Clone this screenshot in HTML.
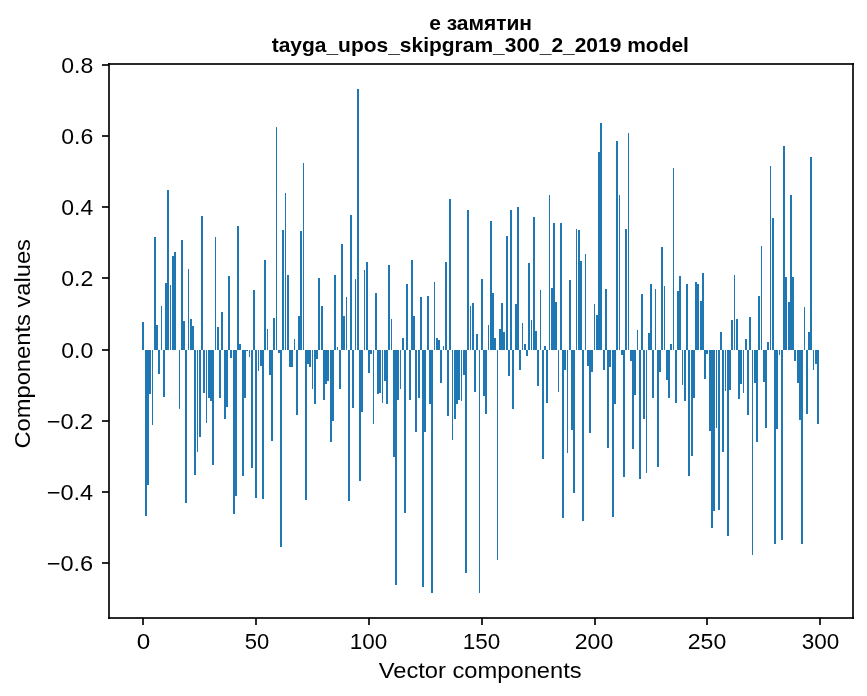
<!DOCTYPE html>
<html><head><meta charset="utf-8"><style>
html,body{margin:0;padding:0;background:#fff;width:867px;height:696px;overflow:hidden}
svg{display:block;will-change:transform}
text{font-family:"Liberation Sans",sans-serif;fill:#000}
</style></head><body>
<svg width="867" height="696" viewBox="0 0 867 696">
<rect x="0" y="0" width="867" height="696" fill="#fff"/>
<g fill="#1f77b4" shape-rendering="crispEdges">
<rect x="142" y="322" width="2" height="28"/>
<rect x="145" y="350" width="2" height="166"/>
<rect x="147" y="350" width="2" height="135"/>
<rect x="149" y="350" width="2" height="44"/>
<rect x="152" y="350" width="1" height="75"/>
<rect x="154" y="237" width="2" height="113"/>
<rect x="156" y="325" width="2" height="25"/>
<rect x="158" y="350" width="2" height="24"/>
<rect x="161" y="306" width="1" height="44"/>
<rect x="163" y="350" width="2" height="47"/>
<rect x="165" y="283" width="2" height="67"/>
<rect x="167" y="190" width="2" height="160"/>
<rect x="170" y="285" width="1" height="65"/>
<rect x="172" y="256" width="2" height="94"/>
<rect x="174" y="252" width="2" height="98"/>
<rect x="179" y="350" width="1" height="59"/>
<rect x="181" y="240" width="2" height="110"/>
<rect x="183" y="321" width="2" height="29"/>
<rect x="185" y="350" width="2" height="153"/>
<rect x="188" y="269" width="1" height="81"/>
<rect x="190" y="319" width="2" height="31"/>
<rect x="192" y="326" width="2" height="24"/>
<rect x="194" y="350" width="2" height="125"/>
<rect x="197" y="350" width="1" height="102"/>
<rect x="199" y="350" width="2" height="87"/>
<rect x="201" y="216" width="2" height="134"/>
<rect x="203" y="350" width="2" height="43"/>
<rect x="206" y="350" width="1" height="73"/>
<rect x="208" y="350" width="2" height="48"/>
<rect x="210" y="350" width="2" height="51"/>
<rect x="212" y="350" width="2" height="115"/>
<rect x="215" y="237" width="1" height="113"/>
<rect x="217" y="327" width="2" height="23"/>
<rect x="219" y="350" width="2" height="48"/>
<rect x="221" y="312" width="2" height="38"/>
<rect x="224" y="350" width="2" height="69"/>
<rect x="226" y="350" width="2" height="57"/>
<rect x="228" y="276" width="2" height="74"/>
<rect x="230" y="350" width="2" height="8"/>
<rect x="233" y="350" width="2" height="164"/>
<rect x="235" y="350" width="2" height="146"/>
<rect x="237" y="226" width="2" height="124"/>
<rect x="239" y="344" width="2" height="6"/>
<rect x="242" y="350" width="2" height="126"/>
<rect x="244" y="350" width="2" height="48"/>
<rect x="246" y="350" width="2" height="1"/>
<rect x="249" y="350" width="1" height="7"/>
<rect x="251" y="350" width="2" height="118"/>
<rect x="253" y="290" width="2" height="60"/>
<rect x="255" y="350" width="2" height="148"/>
<rect x="258" y="350" width="1" height="21"/>
<rect x="260" y="350" width="2" height="16"/>
<rect x="262" y="350" width="2" height="149"/>
<rect x="264" y="260" width="2" height="90"/>
<rect x="267" y="329" width="1" height="21"/>
<rect x="269" y="350" width="2" height="25"/>
<rect x="271" y="350" width="2" height="91"/>
<rect x="273" y="318" width="2" height="32"/>
<rect x="276" y="127" width="1" height="223"/>
<rect x="278" y="350" width="2" height="3"/>
<rect x="280" y="350" width="2" height="197"/>
<rect x="282" y="230" width="2" height="120"/>
<rect x="285" y="193" width="1" height="157"/>
<rect x="287" y="275" width="2" height="75"/>
<rect x="289" y="350" width="2" height="17"/>
<rect x="291" y="350" width="2" height="17"/>
<rect x="294" y="339" width="1" height="11"/>
<rect x="296" y="350" width="2" height="65"/>
<rect x="298" y="316" width="2" height="34"/>
<rect x="300" y="231" width="2" height="119"/>
<rect x="303" y="163" width="1" height="187"/>
<rect x="305" y="350" width="2" height="150"/>
<rect x="307" y="350" width="2" height="14"/>
<rect x="309" y="350" width="2" height="17"/>
<rect x="312" y="350" width="1" height="39"/>
<rect x="314" y="350" width="2" height="54"/>
<rect x="316" y="350" width="2" height="9"/>
<rect x="318" y="278" width="2" height="72"/>
<rect x="321" y="306" width="2" height="44"/>
<rect x="323" y="350" width="2" height="50"/>
<rect x="325" y="350" width="2" height="34"/>
<rect x="327" y="350" width="2" height="31"/>
<rect x="330" y="350" width="2" height="92"/>
<rect x="332" y="350" width="2" height="71"/>
<rect x="334" y="275" width="2" height="75"/>
<rect x="337" y="347" width="1" height="3"/>
<rect x="339" y="350" width="2" height="39"/>
<rect x="341" y="244" width="2" height="106"/>
<rect x="343" y="316" width="2" height="34"/>
<rect x="346" y="297" width="1" height="53"/>
<rect x="348" y="350" width="2" height="151"/>
<rect x="350" y="215" width="2" height="135"/>
<rect x="352" y="350" width="2" height="58"/>
<rect x="355" y="279" width="1" height="71"/>
<rect x="357" y="89" width="2" height="261"/>
<rect x="359" y="350" width="2" height="131"/>
<rect x="361" y="350" width="2" height="62"/>
<rect x="364" y="270" width="1" height="80"/>
<rect x="366" y="262" width="2" height="88"/>
<rect x="368" y="350" width="2" height="23"/>
<rect x="370" y="350" width="2" height="4"/>
<rect x="373" y="350" width="1" height="74"/>
<rect x="375" y="293" width="2" height="57"/>
<rect x="377" y="350" width="2" height="44"/>
<rect x="379" y="350" width="2" height="43"/>
<rect x="382" y="350" width="1" height="53"/>
<rect x="384" y="350" width="2" height="31"/>
<rect x="386" y="350" width="2" height="54"/>
<rect x="388" y="265" width="2" height="85"/>
<rect x="391" y="319" width="1" height="31"/>
<rect x="393" y="350" width="2" height="107"/>
<rect x="395" y="350" width="2" height="235"/>
<rect x="397" y="350" width="2" height="50"/>
<rect x="400" y="350" width="1" height="39"/>
<rect x="402" y="338" width="2" height="12"/>
<rect x="404" y="350" width="2" height="163"/>
<rect x="406" y="284" width="2" height="66"/>
<rect x="409" y="350" width="2" height="50"/>
<rect x="411" y="260" width="2" height="90"/>
<rect x="413" y="316" width="2" height="34"/>
<rect x="415" y="350" width="2" height="82"/>
<rect x="418" y="350" width="2" height="48"/>
<rect x="420" y="297" width="2" height="53"/>
<rect x="422" y="350" width="2" height="237"/>
<rect x="424" y="350" width="2" height="82"/>
<rect x="427" y="296" width="2" height="54"/>
<rect x="429" y="350" width="2" height="54"/>
<rect x="431" y="350" width="2" height="243"/>
<rect x="434" y="282" width="1" height="68"/>
<rect x="436" y="338" width="2" height="12"/>
<rect x="438" y="340" width="2" height="10"/>
<rect x="440" y="350" width="2" height="33"/>
<rect x="443" y="346" width="1" height="4"/>
<rect x="445" y="262" width="2" height="88"/>
<rect x="447" y="350" width="2" height="66"/>
<rect x="449" y="199" width="2" height="151"/>
<rect x="452" y="350" width="1" height="90"/>
<rect x="454" y="350" width="2" height="69"/>
<rect x="456" y="350" width="2" height="54"/>
<rect x="458" y="350" width="2" height="50"/>
<rect x="461" y="350" width="1" height="51"/>
<rect x="463" y="350" width="2" height="25"/>
<rect x="465" y="350" width="2" height="223"/>
<rect x="467" y="210" width="2" height="140"/>
<rect x="470" y="306" width="1" height="44"/>
<rect x="472" y="303" width="2" height="47"/>
<rect x="474" y="350" width="2" height="42"/>
<rect x="476" y="334" width="2" height="16"/>
<rect x="479" y="350" width="1" height="243"/>
<rect x="481" y="279" width="2" height="71"/>
<rect x="483" y="350" width="2" height="46"/>
<rect x="485" y="350" width="2" height="64"/>
<rect x="488" y="325" width="1" height="25"/>
<rect x="490" y="221" width="2" height="129"/>
<rect x="492" y="293" width="2" height="57"/>
<rect x="494" y="338" width="2" height="12"/>
<rect x="497" y="350" width="1" height="210"/>
<rect x="499" y="329" width="2" height="21"/>
<rect x="501" y="303" width="2" height="47"/>
<rect x="503" y="332" width="2" height="18"/>
<rect x="506" y="236" width="2" height="114"/>
<rect x="508" y="350" width="2" height="26"/>
<rect x="510" y="210" width="2" height="140"/>
<rect x="512" y="350" width="2" height="59"/>
<rect x="515" y="304" width="2" height="46"/>
<rect x="517" y="207" width="2" height="143"/>
<rect x="519" y="350" width="2" height="20"/>
<rect x="522" y="323" width="1" height="27"/>
<rect x="524" y="344" width="2" height="6"/>
<rect x="526" y="350" width="2" height="6"/>
<rect x="528" y="263" width="2" height="87"/>
<rect x="531" y="320" width="1" height="30"/>
<rect x="533" y="217" width="2" height="133"/>
<rect x="535" y="331" width="2" height="19"/>
<rect x="537" y="350" width="2" height="36"/>
<rect x="540" y="290" width="1" height="60"/>
<rect x="542" y="350" width="2" height="109"/>
<rect x="544" y="346" width="2" height="4"/>
<rect x="546" y="350" width="2" height="53"/>
<rect x="549" y="195" width="1" height="155"/>
<rect x="551" y="288" width="2" height="62"/>
<rect x="553" y="223" width="2" height="127"/>
<rect x="555" y="302" width="2" height="48"/>
<rect x="558" y="350" width="1" height="42"/>
<rect x="560" y="223" width="2" height="127"/>
<rect x="562" y="350" width="2" height="168"/>
<rect x="564" y="350" width="2" height="20"/>
<rect x="567" y="350" width="1" height="103"/>
<rect x="569" y="280" width="2" height="70"/>
<rect x="571" y="350" width="2" height="80"/>
<rect x="573" y="350" width="2" height="143"/>
<rect x="576" y="229" width="1" height="121"/>
<rect x="578" y="230" width="2" height="120"/>
<rect x="580" y="261" width="2" height="89"/>
<rect x="582" y="350" width="2" height="171"/>
<rect x="585" y="254" width="1" height="96"/>
<rect x="587" y="350" width="2" height="16"/>
<rect x="589" y="350" width="2" height="83"/>
<rect x="591" y="350" width="2" height="22"/>
<rect x="594" y="304" width="1" height="46"/>
<rect x="596" y="315" width="2" height="35"/>
<rect x="598" y="152" width="2" height="198"/>
<rect x="600" y="123" width="2" height="227"/>
<rect x="603" y="350" width="2" height="20"/>
<rect x="605" y="289" width="2" height="61"/>
<rect x="607" y="350" width="2" height="98"/>
<rect x="609" y="350" width="2" height="17"/>
<rect x="612" y="350" width="2" height="167"/>
<rect x="614" y="350" width="2" height="54"/>
<rect x="616" y="141" width="2" height="209"/>
<rect x="619" y="195" width="1" height="155"/>
<rect x="621" y="350" width="2" height="5"/>
<rect x="623" y="350" width="2" height="127"/>
<rect x="625" y="229" width="2" height="121"/>
<rect x="628" y="133" width="1" height="217"/>
<rect x="630" y="350" width="2" height="11"/>
<rect x="632" y="350" width="2" height="99"/>
<rect x="634" y="350" width="2" height="45"/>
<rect x="637" y="330" width="1" height="20"/>
<rect x="639" y="350" width="2" height="129"/>
<rect x="641" y="294" width="2" height="56"/>
<rect x="643" y="350" width="2" height="69"/>
<rect x="646" y="350" width="1" height="123"/>
<rect x="648" y="333" width="2" height="17"/>
<rect x="650" y="284" width="2" height="66"/>
<rect x="652" y="350" width="2" height="48"/>
<rect x="655" y="289" width="1" height="61"/>
<rect x="657" y="350" width="2" height="117"/>
<rect x="659" y="350" width="2" height="22"/>
<rect x="661" y="247" width="2" height="103"/>
<rect x="664" y="286" width="1" height="64"/>
<rect x="666" y="350" width="2" height="30"/>
<rect x="668" y="350" width="2" height="48"/>
<rect x="670" y="344" width="2" height="6"/>
<rect x="673" y="168" width="1" height="182"/>
<rect x="675" y="350" width="2" height="53"/>
<rect x="677" y="291" width="2" height="59"/>
<rect x="679" y="276" width="2" height="74"/>
<rect x="682" y="350" width="1" height="35"/>
<rect x="684" y="350" width="2" height="51"/>
<rect x="686" y="284" width="2" height="66"/>
<rect x="688" y="350" width="2" height="126"/>
<rect x="691" y="350" width="2" height="106"/>
<rect x="693" y="350" width="2" height="48"/>
<rect x="695" y="282" width="2" height="68"/>
<rect x="697" y="284" width="2" height="66"/>
<rect x="700" y="301" width="2" height="49"/>
<rect x="702" y="273" width="2" height="77"/>
<rect x="704" y="350" width="2" height="29"/>
<rect x="706" y="350" width="2" height="4"/>
<rect x="709" y="350" width="2" height="81"/>
<rect x="711" y="350" width="2" height="178"/>
<rect x="713" y="350" width="2" height="161"/>
<rect x="716" y="350" width="1" height="78"/>
<rect x="718" y="350" width="2" height="160"/>
<rect x="720" y="332" width="2" height="18"/>
<rect x="722" y="350" width="2" height="102"/>
<rect x="725" y="350" width="1" height="41"/>
<rect x="727" y="350" width="2" height="186"/>
<rect x="729" y="350" width="2" height="40"/>
<rect x="731" y="320" width="2" height="30"/>
<rect x="734" y="275" width="1" height="75"/>
<rect x="736" y="319" width="2" height="31"/>
<rect x="738" y="350" width="2" height="49"/>
<rect x="740" y="350" width="2" height="34"/>
<rect x="743" y="350" width="1" height="43"/>
<rect x="745" y="339" width="2" height="11"/>
<rect x="747" y="350" width="2" height="65"/>
<rect x="749" y="317" width="2" height="33"/>
<rect x="752" y="350" width="1" height="205"/>
<rect x="754" y="350" width="2" height="33"/>
<rect x="756" y="350" width="2" height="92"/>
<rect x="758" y="296" width="2" height="54"/>
<rect x="761" y="246" width="1" height="104"/>
<rect x="763" y="350" width="2" height="32"/>
<rect x="765" y="350" width="2" height="78"/>
<rect x="767" y="342" width="2" height="8"/>
<rect x="770" y="166" width="1" height="184"/>
<rect x="772" y="218" width="2" height="132"/>
<rect x="774" y="350" width="2" height="194"/>
<rect x="776" y="350" width="2" height="79"/>
<rect x="779" y="350" width="1" height="5"/>
<rect x="781" y="350" width="2" height="190"/>
<rect x="783" y="146" width="2" height="204"/>
<rect x="785" y="277" width="2" height="73"/>
<rect x="788" y="302" width="2" height="48"/>
<rect x="790" y="195" width="2" height="155"/>
<rect x="792" y="277" width="2" height="73"/>
<rect x="794" y="350" width="2" height="11"/>
<rect x="797" y="350" width="2" height="33"/>
<rect x="799" y="350" width="2" height="70"/>
<rect x="801" y="350" width="2" height="194"/>
<rect x="804" y="307" width="1" height="43"/>
<rect x="806" y="350" width="2" height="64"/>
<rect x="808" y="332" width="2" height="18"/>
<rect x="810" y="157" width="2" height="193"/>
<rect x="813" y="350" width="1" height="20"/>
<rect x="815" y="350" width="2" height="14"/>
<rect x="817" y="350" width="2" height="74"/>
</g>
<g fill="#000" fill-opacity="0.8333" shape-rendering="crispEdges">
<rect x="108" y="63" width="2" height="556"/>
<rect x="852" y="63" width="2" height="556"/>
<rect x="108" y="63" width="746" height="2"/>
<rect x="108" y="617" width="746" height="2"/>
<rect x="142" y="618" width="2" height="7"/>
<rect x="255" y="618" width="2" height="7"/>
<rect x="368" y="618" width="2" height="7"/>
<rect x="481" y="618" width="2" height="7"/>
<rect x="594" y="618" width="2" height="7"/>
<rect x="706" y="618" width="2" height="7"/>
<rect x="819" y="618" width="2" height="7"/>
<rect x="102" y="64" width="7" height="2"/>
<rect x="102" y="135" width="7" height="2"/>
<rect x="102" y="206" width="7" height="2"/>
<rect x="102" y="277" width="7" height="2"/>
<rect x="102" y="349" width="7" height="2"/>
<rect x="102" y="420" width="7" height="2"/>
<rect x="102" y="491" width="7" height="2"/>
<rect x="102" y="562" width="7" height="2"/>
</g>
<g font-size="22.2">
<text x="143.50" y="649.00" text-anchor="middle" textLength="13.5" lengthAdjust="spacingAndGlyphs">0</text><text x="257.00" y="649.00" text-anchor="middle" textLength="24.5" lengthAdjust="spacingAndGlyphs">50</text><text x="368.50" y="649.00" text-anchor="middle" textLength="37.5" lengthAdjust="spacingAndGlyphs">100</text><text x="481.50" y="649.00" text-anchor="middle" textLength="37.5" lengthAdjust="spacingAndGlyphs">150</text><text x="594.00" y="649.00" text-anchor="middle" textLength="38.5" lengthAdjust="spacingAndGlyphs">200</text><text x="707.00" y="649.00" text-anchor="middle" textLength="38.5" lengthAdjust="spacingAndGlyphs">250</text><text x="820.50" y="649.00" text-anchor="middle" textLength="37.5" lengthAdjust="spacingAndGlyphs">300</text>
</g>
<g font-size="21.7">
<text x="93.20" y="72.90" text-anchor="end" textLength="32.0" lengthAdjust="spacingAndGlyphs">0.8</text><text x="93.20" y="143.90" text-anchor="end" textLength="32.0" lengthAdjust="spacingAndGlyphs">0.6</text><text x="93.20" y="214.90" text-anchor="end" textLength="32.0" lengthAdjust="spacingAndGlyphs">0.4</text><text x="93.20" y="285.90" text-anchor="end" textLength="32.0" lengthAdjust="spacingAndGlyphs">0.2</text><text x="93.20" y="357.90" text-anchor="end" textLength="32.0" lengthAdjust="spacingAndGlyphs">0.0</text><text x="93.20" y="428.90" text-anchor="end" textLength="46.5" lengthAdjust="spacingAndGlyphs">−0.2</text><text x="93.20" y="499.90" text-anchor="end" textLength="46.5" lengthAdjust="spacingAndGlyphs">−0.4</text><text x="93.20" y="570.90" text-anchor="end" textLength="46.5" lengthAdjust="spacingAndGlyphs">−0.6</text>
</g>
<text x="480.2" y="677.6" font-size="21.5" text-anchor="middle" textLength="203" lengthAdjust="spacingAndGlyphs">Vector components</text>
<text transform="translate(30.0,343.8) rotate(-90)" font-size="21.5" text-anchor="middle" textLength="209.5" lengthAdjust="spacingAndGlyphs">Components values</text>
<g font-weight="bold" font-size="20.98" text-anchor="middle">
<text x="480.6" y="29.6">е замятин</text>
<text x="480.3" y="51.6">tayga_upos_skipgram_300_2_2019 model</text>
</g>
</svg>
</body></html>
